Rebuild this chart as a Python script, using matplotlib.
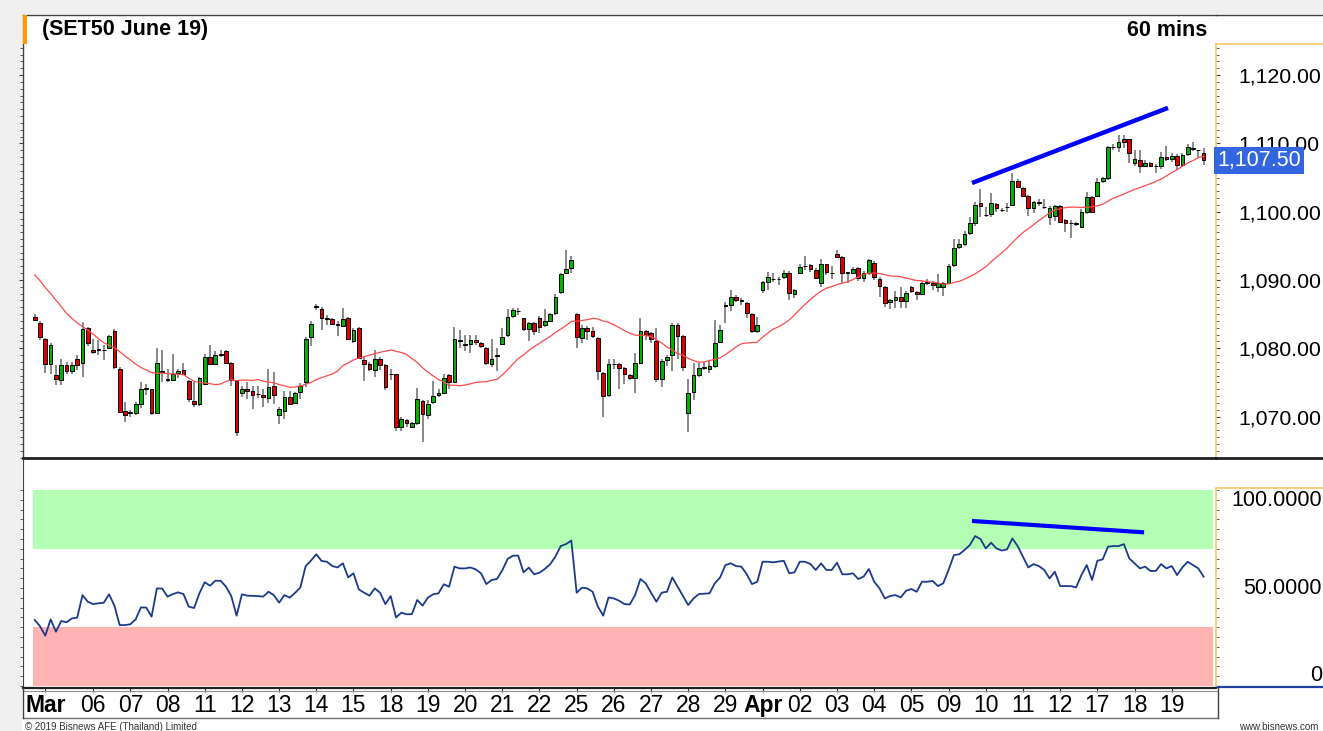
import numpy as np
import pandas as pd
import matplotlib
matplotlib.use("Agg")
import matplotlib.pyplot as plt
from matplotlib.ticker import MultipleLocator, FuncFormatter, FixedLocator, NullFormatter
from matplotlib.lines import Line2D
from matplotlib.patches import Rectangle
import matplotlib.transforms as mtransforms

plt.rcParams['font.family'] = ['Liberation Sans', 'DejaVu Sans']

# ---------------- DATA (60-min bars, SET50 June 19 futures) ----------------
opens = [1084.61,1083.63,1081.33,1077.67,1076.06,1075.33,1077.6,1076.65,1078.4,1077.9,
 1083.0,1079.7,1079.9,1079.7,1080.1,1082.5,1077.0,1070.85,1070.55,1070.55,
 1071.9,1074.1,1074.0,1070.55,1076.6,1075.4,1075.33,1076.4,1076.8,1075.2,
 1072.25,1071.8,1074.75,1078.7,1077.7,1079.0,1079.6,1077.86,1075.2,1073.4,
 1074.0,1073.7,1073.3,1073.1,1072.75,1074.45,1070.2,1070.85,1072.9,1072.0,
 1073.6,1075.0,1081.6,1086.1,1085.7,1084.4,1084.25,1083.5,1083.3,1084.5,
 1081.1,1082.9,1078.35,1077.7,1076.8,1078.5,1077.5,1076.2,1076.2,1068.4,
 1069.5,1068.4,1069.0,1072.25,1070.2,1072.2,1073.15,1073.5,1076.1,1075.1,
 1081.1,1080.55,1080.6,1081.2,1080.8,1080.1,1077.7,1078.9,1080.6,1082.0,
 1084.7,1085.45,1084.4,1082.75,1083.65,1084.5,1083.35,1084.0,1085.1,1088.2,
 1091.05,1091.7,1084.95,1081.45,1082.9,1082.5,1081.45,1076.45,1073.15,1077.7,
 1077.7,1077.05,1076.1,1075.6,1077.9,1082.5,1082.2,1081.05,1075.45,1078.3,
 1079.0,1083.35,1081.8,1070.55,1073.6,1076.15,1077.05,1076.9,1077.45,1080.85,
 1086.3,1086.3,1087.45,1087.0,1086.65,1085.0,1082.5,1088.6,1089.75,1090.1,
 1090.1,1090.5,1090.95,1087.9,1091.05,1092.0,1092.2,1091.45,1089.6,1092.35,
 1090.95,1093.75,1093.4,1091.05,1091.05,1091.7,1090.35,1091.05,1092.5,1090.2,
 1089.0,1086.8,1087.05,1087.55,1086.95,1089.0,1088.3,1088.0,1089.6,1089.6,
 1088.9,1089.0,1089.6,1092.2,1094.85,1095.25,1096.9,1098.3,1101.2,1099.5,
 1099.65,1101.1,1100.25,1100.7,1100.95,1104.5,1103.5,1102.3,1100.6,1101.2,
 1100.7,1099.25,1099.4,1100.8,1098.75,1098.3,1098.3,1097.8,1100.0,1102.2,
 1102.3,1104.55,1104.9,1109.4,1109.4,1110.6,1110.6,1107.15,1107.55,1106.7,
 1107.2,1106.7,1106.7,1108.05,1107.65,1108.15,1106.8,1108.45,1109.25,1109.05,
 1108.6]
highs = [1085.0,1084.02,1081.53,1080.8,1077.5,1078.5,1078.0,1078.0,1079.0,1083.9,
 1083.1,1081.4,1081.2,1080.5,1082.0,1082.75,1077.3,1072.2,1070.9,1072.2,
 1075.1,1074.75,1074.1,1080.1,1079.7,1076.9,1079.1,1077.0,1077.9,1075.3,
 1075.0,1075.8,1079.1,1080.55,1079.6,1079.7,1079.8,1078.0,1075.3,1074.45,
 1075.1,1074.45,1074.45,1074.0,1077.0,1076.55,1071.4,1073.8,1073.8,1073.6,
 1074.85,1081.6,1084.0,1086.55,1086.1,1084.85,1084.5,1084.0,1085.9,1084.6,
 1082.9,1083.05,1078.75,1078.0,1079.8,1078.75,1077.7,1076.9,1076.3,1069.95,
 1069.7,1069.2,1074.2,1072.4,1072.4,1075.2,1074.1,1076.2,1076.3,1083.05,
 1082.7,1081.9,1081.9,1082.0,1080.9,1080.2,1081.35,1080.1,1082.9,1085.8,
 1085.9,1085.9,1084.5,1083.9,1083.8,1084.7,1085.7,1085.2,1087.9,1091.05,
 1094.4,1093.55,1085.1,1083.4,1083.25,1083.05,1081.6,1076.55,1078.5,1078.4,
 1077.9,1077.2,1076.3,1079.35,1084.4,1082.7,1082.4,1082.9,1078.4,1079.0,
 1083.65,1083.65,1081.9,1075.45,1077.8,1077.8,1078.0,1078.1,1084.1,1083.4,
 1086.8,1088.5,1087.8,1087.3,1086.8,1085.2,1084.6,1089.9,1091.2,1090.95,
 1090.4,1091.45,1091.35,1088.75,1092.4,1093.5,1092.4,1091.7,1093.0,1092.4,
 1092.0,1094.45,1093.55,1091.2,1091.85,1091.85,1091.35,1093.0,1092.8,1090.45,
 1089.1,1087.15,1088.4,1089.0,1088.4,1089.1,1088.45,1089.8,1090.2,1089.9,
 1090.85,1089.75,1092.3,1095.95,1095.95,1097.15,1099.25,1101.35,1103.25,1100.7,
 1102.8,1101.3,1100.5,1101.2,1105.6,1104.8,1103.65,1102.4,1101.6,1101.8,
 1101.8,1100.8,1100.95,1101.05,1099.0,1098.75,1098.5,1100.35,1102.9,1102.3,
 1104.9,1105.1,1109.6,1109.9,1111.2,1111.2,1110.7,1109.0,1109.0,1107.55,
 1107.3,1107.05,1108.8,1109.6,1108.55,1108.4,1108.55,1109.9,1110.2,1109.1,
 1109.3]
lows = [1083.93,1081.19,1076.4,1076.3,1074.6,1074.65,1076.3,1076.2,1076.8,1075.8,
 1080.3,1079.2,1079.0,1078.3,1080.0,1077.0,1070.55,1069.2,1069.9,1070.2,
 1071.2,1073.2,1070.2,1070.45,1075.1,1075.1,1075.2,1075.6,1076.1,1072.15,
 1071.4,1071.6,1074.6,1077.5,1077.5,1078.75,1077.7,1074.45,1067.1,1072.8,
 1072.5,1071.1,1072.65,1071.4,1072.0,1071.8,1068.9,1069.7,1071.7,1071.9,
 1072.5,1074.35,1080.3,1085.6,1082.65,1083.4,1083.4,1081.8,1083.1,1081.2,
 1080.7,1078.45,1075.2,1076.7,1075.8,1076.8,1073.9,1075.3,1067.9,1067.9,
 1068.4,1068.25,1068.75,1066.3,1069.6,1071.9,1072.9,1073.4,1074.1,1074.95,
 1080.1,1079.6,1079.35,1080.5,1080.1,1077.6,1077.3,1076.65,1080.5,1081.7,
 1084.4,1084.85,1082.55,1081.1,1081.9,1082.2,1083.15,1083.9,1084.85,1088.0,
 1090.85,1091.05,1080.1,1080.8,1081.2,1081.45,1075.35,1069.9,1072.8,1076.9,
 1074.0,1074.75,1075.35,1073.4,1077.7,1081.2,1080.7,1075.1,1074.3,1077.4,
 1076.7,1078.5,1076.7,1067.8,1072.4,1075.8,1076.8,1076.4,1077.05,1080.7,
 1083.65,1085.5,1086.8,1086.3,1084.4,1082.3,1082.2,1088.1,1088.6,1089.75,
 1089.25,1090.2,1087.05,1087.3,1090.85,1091.45,1091.2,1090.1,1089.0,1090.7,
 1090.2,1093.15,1089.5,1089.6,1090.85,1089.9,1089.75,1090.7,1090.0,1087.55,
 1086.1,1085.8,1085.9,1085.85,1085.85,1088.1,1087.05,1087.9,1089.25,1088.5,
 1088.3,1087.65,1089.5,1091.95,1094.6,1094.95,1096.55,1097.9,1099.25,1099.25,
 1099.25,1100.0,1100.0,1100.0,1100.8,1103.4,1102.1,1099.4,1099.75,1100.8,
 1100.35,1098.05,1098.7,1098.4,1097.05,1096.1,1097.9,1097.55,1099.65,1099.75,
 1102.2,1104.25,1104.7,1109.0,1108.8,1109.3,1107.2,1106.7,1105.7,1106.6,
 1106.6,1105.7,1106.3,1107.45,1107.3,1106.1,1106.6,1108.15,1108.9,1107.95,
 1106.8]
closes = [1084.12,1081.68,1077.67,1080.55,1075.43,1077.48,1076.7,1077.6,1077.6,1082.75,
 1080.8,1079.5,1079.8,1079.8,1081.8,1077.2,1070.7,1070.2,1070.6,1071.8,
 1074.1,1074.2,1070.45,1077.8,1076.55,1075.5,1076.2,1076.7,1076.2,1072.5,
 1071.8,1075.6,1078.7,1077.7,1079.0,1079.1,1077.8,1075.3,1067.8,1074.0,
 1073.7,1073.2,1073.25,1072.8,1074.35,1073.2,1071.05,1072.9,1071.9,1073.4,
 1074.5,1081.3,1083.6,1086.15,1084.4,1084.35,1083.6,1083.45,1084.35,1081.4,
 1082.65,1078.6,1077.7,1076.9,1078.45,1077.5,1074.35,1076.25,1068.4,1069.6,
 1069.0,1069.0,1072.5,1070.35,1071.9,1073.0,1073.5,1075.7,1075.1,1081.35,
 1081.15,1080.6,1081.2,1080.85,1080.3,1077.8,1078.5,1078.95,1081.7,1084.6,
 1085.6,1085.5,1082.75,1083.65,1082.5,1083.05,1083.95,1084.95,1087.55,1090.85,
 1091.55,1092.9,1081.7,1083.0,1082.55,1081.8,1076.65,1073.05,1077.7,1077.75,
 1077.15,1076.3,1075.6,1077.8,1082.55,1081.9,1081.3,1075.45,1078.2,1078.75,
 1083.35,1081.8,1077.2,1073.5,1076.05,1077.15,1077.2,1077.45,1080.8,1082.65,
 1086.25,1087.45,1087.05,1086.95,1085.1,1082.5,1083.35,1089.65,1090.4,1090.15,
 1090.15,1090.95,1088.1,1088.5,1091.95,1092.05,1091.55,1090.35,1092.3,1091.2,
 1090.95,1093.4,1091.05,1091.1,1091.55,1090.35,1090.95,1092.9,1090.5,1089.1,
 1086.65,1087.05,1087.55,1086.95,1088.05,1088.4,1087.95,1089.6,1089.6,1089.25,
 1089.6,1089.5,1092.05,1094.75,1095.2,1096.8,1098.3,1101.05,1100.8,1099.5,
 1101.2,1100.5,1100.2,1100.75,1104.5,1103.65,1102.3,1100.6,1101.35,1101.45,
 1100.7,1100.6,1100.8,1098.5,1098.3,1098.3,1098.25,1100.0,1102.2,1100.0,
 1104.4,1104.9,1109.4,1109.4,1110.15,1110.25,1108.55,1107.65,1106.7,1107.2,
 1106.7,1106.65,1108.05,1107.65,1108.15,1106.8,1108.3,1109.5,1109.3,1109.0,
 1107.5]

# 20-bar moving average: first 19 values (history before the window)
ma_head = [1090.75,1089.9,1088.9,1088.0,1087.05,1086.1,1085.1,1084.4,1083.7,1083.2,
 1082.65,1082.05,1081.4,1080.8,1080.45,1080.1,1079.5,1078.85,1078.3]
ma_period = 20

rsi = [33.7,30.5,25.7,34.0,27.7,33.2,32.5,34.5,34.9,46.4,
 43.0,41.8,42.2,42.5,46.8,41.0,31.1,31.1,31.5,34.0,
 40.1,40.0,35.4,49.8,49.7,45.6,46.9,47.8,46.9,40.5,
 39.8,47.3,52.9,51.2,53.7,53.7,50.7,45.9,35.9,46.8,
 46.1,46.0,45.9,45.6,48.1,46.4,42.5,46.4,45.1,47.5,
 50.3,61.2,64.0,67.2,63.8,63.4,61.2,60.5,62.6,55.4,
 57.5,49.3,47.6,46.1,49.8,47.6,41.8,45.9,35.0,37.4,
 36.6,36.7,43.9,41.0,45.1,46.8,47.3,51.9,50.7,60.9,
 60.0,60.0,60.5,59.5,57.5,52.0,54.1,54.6,59.0,64.8,
 66.5,66.5,58.0,60.4,57.0,57.8,59.7,62.1,66.0,71.4,
 72.4,74.2,47.6,50.2,49.8,48.1,40.5,35.9,45.2,44.7,
 43.5,41.8,41.6,46.4,54.6,52.4,47.6,43.0,47.6,48.1,
 55.4,50.7,45.9,41.3,44.7,46.9,47.1,47.3,52.4,55.4,
 61.7,62.6,61.2,60.9,57.1,52.0,53.2,63.4,63.4,63.1,
 63.5,63.9,57.5,58.0,63.4,63.4,62.2,59.2,62.6,59.2,
 59.2,62.9,57.0,57.0,57.5,54.6,55.8,59.7,53.2,49.8,
 44.7,45.9,46.4,45.2,48.6,49.5,48.1,53.2,53.2,53.6,
 51.0,52.4,59.2,66.8,67.2,69.4,71.9,76.5,75.0,70.2,
 73.1,70.2,69.1,69.7,75.3,71.4,66.0,60.5,62.2,61.2,
 59.2,54.9,58.3,51.0,51.0,51.0,50.3,56.6,61.7,54.1,
 63.9,64.6,71.1,71.4,71.4,72.4,65.1,62.6,60.0,60.9,
 58.7,58.7,62.2,60.0,61.2,56.6,60.5,63.4,61.7,60.0,
 55.8]

day_labels = ['Mar','06','07','08','11','12','13','14','15','18','19','20','21','22',
              '25','26','27','28','29','Apr','02','03','04','05','09','10','11','12',
              '17','18','19']
bars_per_day = 7
first_full_day_bar = 11      # first bar of 06 Mar
mar_label_bar = 2            # month label, clamped at the left edge

rsi_zones = [(70, 100, '#b3ffb3'), (0, 30, '#ffb3b3')]
price_trend_x = [176.4, 213.3]
price_trend_y = [1104.2, 1115.2]
rsi_trend_x = [176.4, 208.8]
rsi_trend_y = [84.2, 78.4]

title = '(SET50 June 19)'
interval = '60 mins'

# ---------------- FIGURE ----------------
W, H = 1323, 731
fig = plt.figure(figsize=(W / 100, H / 100), dpi=100)
fig.patch.set_facecolor('white')

def fx(x):
    return x / W

def fy(y):
    return 1 - y / H

def fline(x0, y0, x1, y1, **kw):
    fig.add_artist(Line2D([fx(x0), fx(x1)], [fy(y0), fy(y1)],
                          transform=fig.transFigure, **kw))

fig.add_artist(Rectangle((0, 0), fx(22), 1, transform=fig.transFigure,
                         facecolor='#f0f0f0', edgecolor='none', zorder=-5))
fig.add_artist(Rectangle((0, fy(14)), 1, 14 / H, transform=fig.transFigure,
                         facecolor='#f0f0f0', edgecolor='none', zorder=-5))

n = len(closes)
x = np.arange(n)
o = np.array(opens); h = np.array(highs); l = np.array(lows); c = np.array(closes)

XL = (-2.2, 222.33)
PY = (1063.93, 1128.8)
P_AXIS_TOP = 1124.5

# ---- price panel ----
ax = fig.add_axes([fx(23), fy(458), (1216 - 23) / W, (458 - 15) / H])
ax.set_xlim(*XL)
ax.set_ylim(*PY)
ax.set_facecolor('white')

ax.vlines(x, l, h, color='#6a6a6a', linewidth=1.1, zorder=2)
body_bottom = np.minimum(o, c)
body_h = np.maximum(np.abs(c - o), 0.04)
cols = np.where(c > o, '#00b300', np.where(c < o, '#e00000', '#000000'))
ax.bar(x, body_h, bottom=body_bottom, width=0.7, color=cols,
       edgecolor='black', linewidth=0.7, zorder=3)

ma_calc = pd.Series(c).rolling(ma_period).mean().to_numpy()
ma = np.concatenate([np.array(ma_head), ma_calc[len(ma_head):]])
ax.plot(x, ma, color='#ff4a4a', linewidth=0.9, zorder=4)

ax.plot(price_trend_x, price_trend_y, color='#0000ff', linewidth=3.2,
        solid_capstyle='butt', zorder=5)

for s in ['top', 'left']:
    ax.spines[s].set_color('#404040')
    ax.spines[s].set_linewidth(1.0)
ax.spines['bottom'].set_color('#202020')
ax.spines['bottom'].set_linewidth(2.0)
ax.spines['right'].set_color('#f2c76a')
ax.spines['right'].set_linewidth(1.2)
ax.spines['right'].set_bounds(PY[0], P_AXIS_TOP)

ax.yaxis.set_major_locator(FixedLocator([1070, 1080, 1090, 1100, 1110, 1120]))
ax.yaxis.set_minor_locator(FixedLocator(list(range(1064, 1125))))
ax.yaxis.set_major_formatter(FuncFormatter(lambda v, p: f'{v:,.2f}'))
ax.yaxis.set_minor_formatter(NullFormatter())
ax.tick_params(axis='y', which='both', left=True, right=True, labelleft=False,
               labelright=True, direction='out', colors='#404040', labelcolor='black')
ax.tick_params(axis='y', which='major', length=3, width=0.8, pad=13, labelsize=15.3)
ax.tick_params(axis='y', which='minor', length=2, width=0.6)
ax.set_xticks([])

fig.text(fx(42), fy(30), title, fontsize=15.5, fontweight='bold', va='center', ha='left')
fig.text(fx(1207), fy(30), interval, fontsize=15.5, fontweight='bold', va='center', ha='right')
fig.add_artist(Rectangle((fx(23), fy(44)), 4 / W, 29 / H, transform=fig.transFigure,
                         facecolor='#ff9900', edgecolor='none', zorder=6))

# current price box
yd = ax.transData.transform((0, c[-1]))[1]
yfig = fig.transFigure.inverted().transform((0, yd))[1]
fig.text(fx(1217), yfig, f'{c[-1]:,.2f}', fontsize=15.5, color='white', va='center', ha='left',
         bbox=dict(boxstyle='square,pad=0.15', facecolor='#3366e0', edgecolor='none'), zorder=10)

# ---- RSI panel ----
ax2 = fig.add_axes([fx(23), fy(688), (1216 - 23) / W, (688 - 460) / H])
ax2.set_xlim(*XL)
ax2.set_ylim(-1.0, 115.3)
x0f = (33 - 23) / (1216 - 23)
x1f = (1213 - 23) / (1216 - 23)
for lo, hi, colr in rsi_zones:
    ax2.axhspan(lo, hi, xmin=x0f, xmax=x1f, facecolor=colr, edgecolor='none', zorder=0)
ax2.plot(x, rsi, color='#1c3a8c', linewidth=1.3, zorder=3)
ax2.plot(rsi_trend_x, rsi_trend_y, color='#0000ff', linewidth=3.0,
         solid_capstyle='butt', zorder=4)

ax2.spines['top'].set_visible(False)
ax2.spines['left'].set_color('#404040')
ax2.spines['bottom'].set_color('#202020')
ax2.spines['bottom'].set_linewidth(1.6)
ax2.spines['right'].set_color('#f2c76a')
ax2.spines['right'].set_linewidth(1.2)
ax2.spines['right'].set_bounds(-1.0, 101)

ax2.yaxis.set_major_locator(FixedLocator(list(range(0, 101, 5))))
ax2.yaxis.set_major_formatter(NullFormatter())
ax2.tick_params(axis='y', which='both', left=True, right=True, direction='out',
                length=2, width=0.6, colors='#404040')
tr = mtransforms.blended_transform_factory(ax2.transAxes, ax2.transData)
xr = (1322 - 23) / (1216 - 23)
ax2.text(xr, 100, '100.0000', transform=tr, ha='right', va='top', fontsize=15.5, clip_on=False)
ax2.text(xr, 50, '50.0000', transform=tr, ha='right', va='center', fontsize=15.5, clip_on=False)
ax2.text(xr, 0, '0', transform=tr, ha='right', va='bottom', fontsize=15.5, clip_on=False)

tick_pos = [mar_label_bar] + [first_full_day_bar + bars_per_day * k
                              for k in range(len(day_labels) - 1)]
ax2.xaxis.set_major_locator(FixedLocator(tick_pos))
ax2.set_xticklabels(day_labels)
ax2.tick_params(axis='x', direction='out', length=3, width=0.8, pad=1,
                labelsize=16.5, colors='#303030', labelcolor='black')
for lbl in ax2.get_xticklabels():
    if lbl.get_text() in ('Mar', 'Apr'):
        lbl.set_fontweight('bold')

# frame lines outside the axes
fline(1216, 15, 1323, 15, color='#404040', linewidth=1.0)
fline(1216, 44, 1323, 44, color='#f2c76a', linewidth=1.2)
fline(1216, 458, 1323, 458, color='#202020', linewidth=2.0)
fline(1218, 488, 1323, 488, color='#f2c76a', linewidth=1.2)
fline(1218, 687, 1323, 687, color='#2040a0', linewidth=1.6)
fline(23, 690.5, 1218, 690.5, color='#909090', linewidth=0.8)
fline(23, 718, 1218, 718, color='#707070', linewidth=1.0)
fline(23, 688, 23, 718, color='#404040', linewidth=1.0)
fline(1218, 688, 1218, 718, color='#404040', linewidth=1.0)

fig.text(fx(25), fy(727), '\u00a9 2019 Bisnews AFE (Thailand) Limited', fontsize=7,
         color='#333333', va='center', ha='left')
fig.text(fx(1318), fy(727), 'www.bisnews.com', fontsize=7, color='#333333',
         va='center', ha='right')

fig.savefig('out.png', dpi=100)
